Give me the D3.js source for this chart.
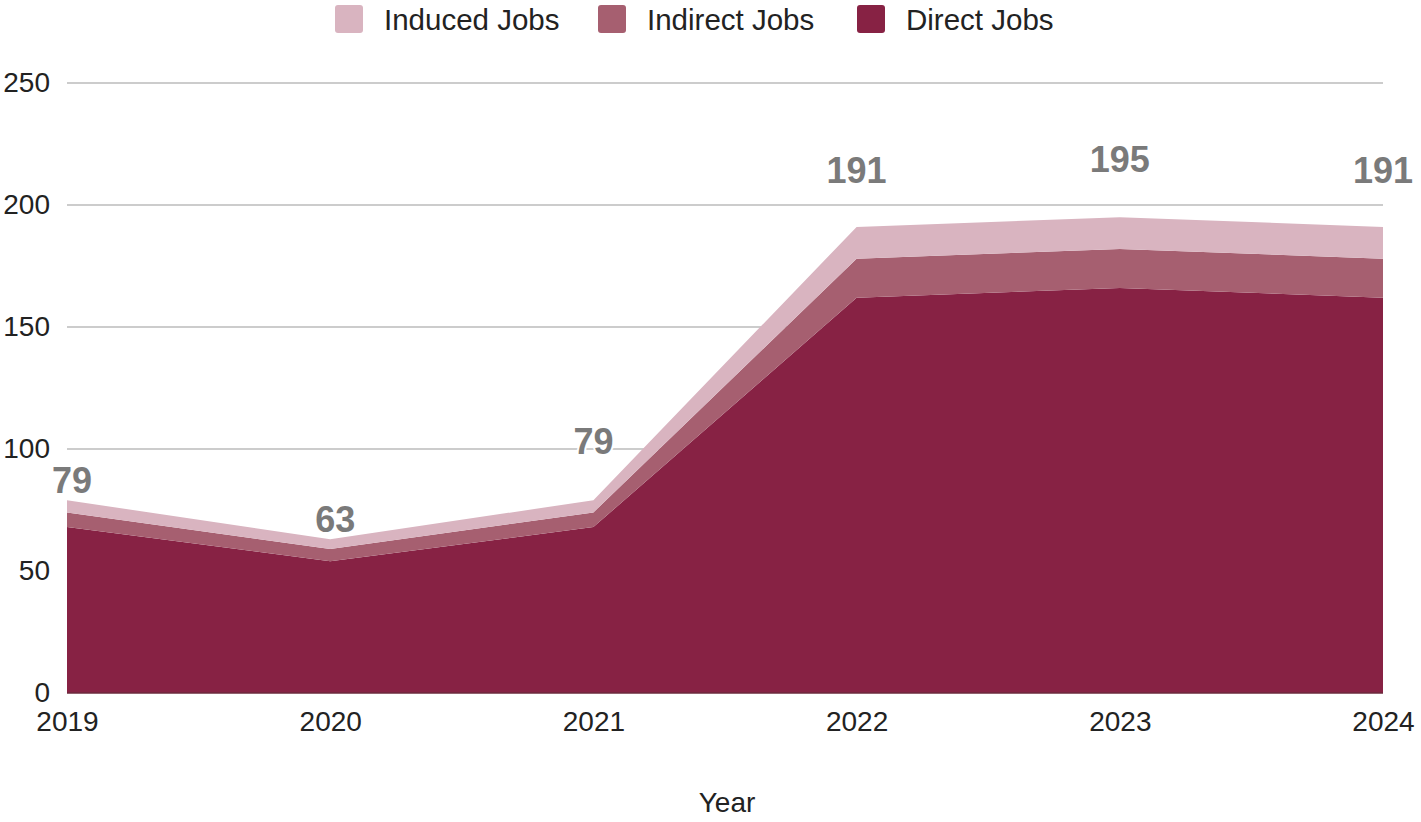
<!DOCTYPE html>
<html><head><meta charset="utf-8">
<script src="https://cdn.jsdelivr.net/npm/d3@7"></script>
<style>
html,body{margin:0;padding:0;background:#fff;}
svg{display:block;font-family:Arial,"Liberation Sans",sans-serif;}
</style></head>
<body>
<svg id="chart" width="1421" height="822"></svg>
<script>
const years = ["2019","2020","2021","2022","2023","2024"];
const directJobs   = [68, 54, 68, 162, 166, 162];
const indirectJobs = [6, 5, 6, 16, 16, 16];
const inducedJobs  = [5, 4, 5, 13, 13, 13];
const totalLabels  = [79, 63, 79, 191, 195, 191];
const yTicks = [0, 50, 100, 150, 200, 250];
const seriesNames = ["Induced Jobs", "Indirect Jobs", "Direct Jobs"];

const colors = {"Direct Jobs":"#872244","Indirect Jobs":"#a65f70","Induced Jobs":"#d9b4c0"};
const labelLift = [7, 7, 46, 44, 45, 44];
const labelShift = [5, 5, 0, 0, 0, 0];

const svg = d3.select("#chart");
const margin = {left:67, right:38, top:83, bottom:129};
const W = 1421, H = 822;

const x = d3.scalePoint().domain(years).range([margin.left, W - margin.right]);
const y = d3.scaleLinear().domain([0, 250]).range([H - margin.bottom, margin.top]);

const rows = years.map((yr, i) => ({year: yr, "Direct Jobs": directJobs[i], "Indirect Jobs": indirectJobs[i], "Induced Jobs": inducedJobs[i]}));
const stack = d3.stack().keys(["Direct Jobs","Indirect Jobs","Induced Jobs"]);
const layers = stack(rows);

// gridlines
svg.append("g").selectAll("line").data(yTicks.filter(t => t > 0)).join("line")
  .attr("x1", margin.left).attr("x2", W - margin.right)
  .attr("y1", d => y(d)).attr("y2", d => y(d))
  .attr("stroke", "#cccccc").attr("stroke-width", 2);

// areas
const area = d3.area().x(d => x(d.data.year)).y0(d => y(d[0])).y1(d => y(d[1]));
svg.append("g").selectAll("path").data(layers).join("path")
  .attr("d", area).attr("fill", d => colors[d.key]);

// baseline
svg.append("line").attr("x1", margin.left).attr("x2", W - margin.right)
  .attr("y1", y(0)).attr("y2", y(0)).attr("stroke", "#6b2a3c").attr("stroke-width", 1.5);

// y axis labels
const yAxis = d3.axisLeft(y).tickValues(yTicks).tickSize(0).tickPadding(17);
const gy = svg.append("g").attr("transform", `translate(${margin.left},0)`).call(yAxis);
gy.select(".domain").remove();
gy.selectAll("text").attr("font-size", 28).attr("fill", "#222").attr("font-family", "Arial, 'Liberation Sans', sans-serif");

// x axis labels
const xAxis = d3.axisBottom(x).tickSize(0).tickPadding(18);
const gx = svg.append("g").attr("transform", `translate(0,${y(0)})`).call(xAxis);
gx.select(".domain").remove();
gx.selectAll("text").attr("font-size", 28).attr("fill", "#222").attr("font-family", "Arial, 'Liberation Sans', sans-serif");

// axis title
svg.append("text").attr("x", 727).attr("y", 812).attr("text-anchor", "middle")
  .attr("font-size", 28).attr("fill", "#222").text("Year");

// total labels
svg.append("g").selectAll("text").data(years).join("text")
  .attr("x", (d, i) => x(d) + labelShift[i])
  .attr("y", (d, i) => y(totalLabels[i]) - labelLift[i])
  .attr("text-anchor", "middle")
  .attr("font-size", 36).attr("font-weight", "bold").attr("fill", "#7a7a7a")
  .attr("stroke", "#fff").attr("stroke-width", 4).attr("paint-order", "stroke")
  .attr("stroke-linejoin", "round")
  .text((d, i) => totalLabels[i]);

// legend
const legendX = [335, 598, 857];
const lg = svg.append("g").selectAll("g").data(seriesNames).join("g")
  .attr("transform", (d, i) => `translate(${legendX[i]},5)`);
lg.append("rect").attr("width", 28).attr("height", 28).attr("rx", 3).attr("fill", d => colors[d]);
lg.append("text").attr("x", 49).attr("y", 25).attr("font-size", 29.5).attr("fill", "#222").text(d => d);
</script>
</body></html>
